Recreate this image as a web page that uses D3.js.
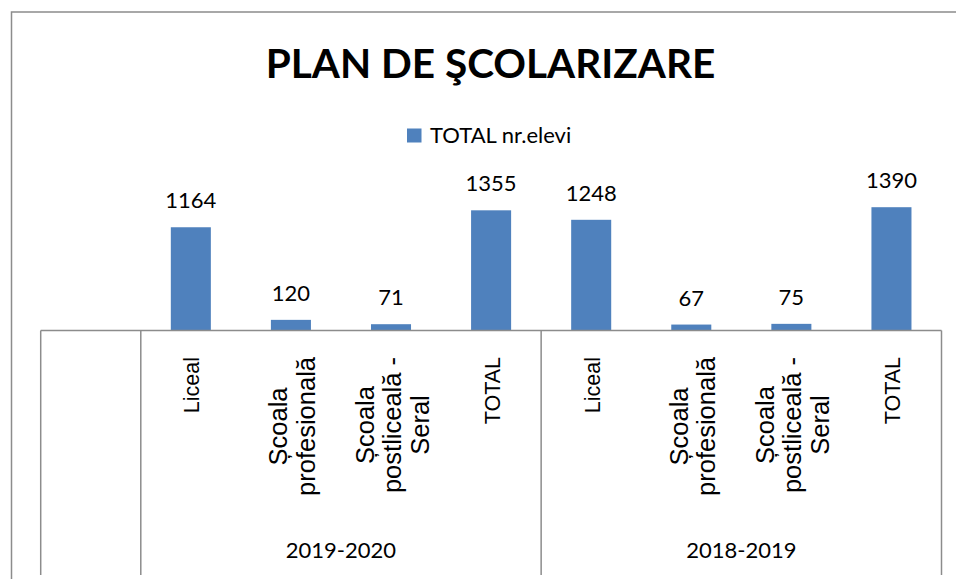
<!DOCTYPE html>
<html>
<head>
<meta charset="utf-8">
<script src="https://cdn.jsdelivr.net/npm/d3@7"></script>
<style>
  body { margin: 0; background: #fff; }
</style>
</head>
<body>
<div id="chart"></div>
<script>
// data
var categories = ["", "Liceal", "Școala\nprofesională", "Școala\npostliceală -\nSeral", "TOTAL",
                  "Liceal", "Școala\nprofesională", "Școala\npostliceală -\nSeral", "TOTAL"];
var values = [null, 1164, 120, 71, 1355, 1248, 67, 75, 1390];
var groups = ["2019-2020", "2018-2019"];
var groupSize = 4;
var seriesName = "TOTAL nr.elevi";
var title = "PLAN DE ŞCOLARIZARE";

var chart_width = 956;
var chart_height = 579;
var blue = "#4f81bd";
var gridColor = "#8c8c8c";
var calibri = "Lato, 'Open Sans', sans-serif";
var arial = "'Liberation Sans', Arial, sans-serif";

var svg = d3.select("#chart")
    .append("svg")
    .attr("width", chart_width)
    .attr("height", chart_height);

// outer frame (only top and left visible)
svg.append("path")
    .attr("d", "M11.5,579 V12 H956")
    .attr("fill", "none")
    .attr("stroke", gridColor)
    .attr("stroke-width", 1.5);

// title
svg.append("text")
    .attr("x", 490.5)
    .attr("y", 78)
    .attr("text-anchor", "middle")
    .attr("font-family", calibri)
    .attr("font-weight", "bold")
    .attr("font-size", 40.5)
    .attr("fill", "#000")
    .text(title);

// legend
svg.append("rect")
    .attr("x", 407)
    .attr("y", 128.5)
    .attr("width", 14.5)
    .attr("height", 14)
    .attr("fill", blue);
svg.append("text")
    .attr("x", 430)
    .attr("y", 143)
    .attr("font-family", calibri)
    .attr("font-size", 22)
    .attr("fill", "#000")
    .text(seriesName);

// scales
var keys = categories.map(function(d, i){ return i; });
var x_scale = d3.scaleBand()
    .domain(keys)
    .range([40.7, 941.5])
    .paddingInner(0)
    .paddingOuter(0);

var baseY = 330.5;
var y_scale = d3.scaleLinear()
    .domain([0, 1600])
    .range([baseY, baseY - 1600 * 0.0887]);

var barW = x_scale.bandwidth() * 0.4;

// bars
var barData = values.map(function(v, i){ return {i: i, v: v}; })
    .filter(function(d){ return d.v !== null; });

svg.selectAll("rect.bar")
    .data(barData)
    .enter()
    .append("rect")
    .attr("class", "bar")
    .attr("x", function(d){ return x_scale(d.i) + (x_scale.bandwidth() - barW) / 2; })
    .attr("y", function(d){ return y_scale(d.v); })
    .attr("width", barW)
    .attr("height", function(d){ return baseY - y_scale(d.v); })
    .attr("fill", blue);

// value labels
svg.selectAll("text.val")
    .data(barData)
    .enter()
    .append("text")
    .attr("class", "val")
    .attr("x", function(d){ return x_scale(d.i) + x_scale.bandwidth() / 2; })
    .attr("y", function(d){ return y_scale(d.v) - 19; })
    .attr("text-anchor", "middle")
    .attr("font-family", calibri)
    .attr("font-size", 22)
    .attr("fill", "#000")
    .text(function(d){ return d.v; });

// axis lines
var bottom = 575;
svg.append("line")
    .attr("x1", x_scale.range()[0]).attr("x2", x_scale.range()[1])
    .attr("y1", baseY).attr("y2", baseY)
    .attr("stroke", gridColor).attr("stroke-width", 1.5);

var dividers = [0, 1, 1 + groupSize, 1 + 2 * groupSize];
svg.selectAll("line.div")
    .data(dividers)
    .enter()
    .append("line")
    .attr("class", "div")
    .attr("x1", function(d){ return d < categories.length ? x_scale(d) : x_scale.range()[1]; })
    .attr("x2", function(d){ return d < categories.length ? x_scale(d) : x_scale.range()[1]; })
    .attr("y1", baseY)
    .attr("y2", bottom)
    .attr("stroke", gridColor)
    .attr("stroke-width", 1.5);

// category labels (rotated, multi-line)
var labelTop = 357;

categories.forEach(function(c, i){
  if (!c) return;
  var lines = c.split("\n");
  var multi = lines.length > 1;
  var fs = multi ? 25.5 : 21.5;
  var lineH = 27.5;
  var cx = x_scale(i) + x_scale.bandwidth() / 2;
  var g = svg.append("g");
  var texts = g.selectAll("text")
      .data(lines)
      .enter()
      .append("text")
      .attr("font-family", arial)
      .attr("font-size", fs)
      .attr("text-anchor", "middle")
      .attr("fill", "#000")
      .text(function(d){ return d; });
  var maxLen = 0;
  texts.each(function(){ maxLen = Math.max(maxLen, this.getComputedTextLength()); });
  var cy = labelTop + maxLen / 2;
  texts.attr("transform", function(d, k){
    var bx = cx + (k - (lines.length - 1) / 2) * lineH + (multi ? 10 : 8.5);
    return "translate(" + bx + "," + cy + ") rotate(-90)";
  });
});

// group labels
svg.selectAll("text.grp")
    .data(groups)
    .enter()
    .append("text")
    .attr("class", "grp")
    .attr("x", function(d, k){
      var a = x_scale(1 + k * groupSize);
      var b = a + x_scale.bandwidth() * groupSize;
      return (a + b) / 2;
    })
    .attr("y", 558)
    .attr("text-anchor", "middle")
    .attr("font-family", calibri)
    .attr("font-size", 22)
    .attr("fill", "#000")
    .text(function(d){ return d; });
</script>
</body>
</html>
